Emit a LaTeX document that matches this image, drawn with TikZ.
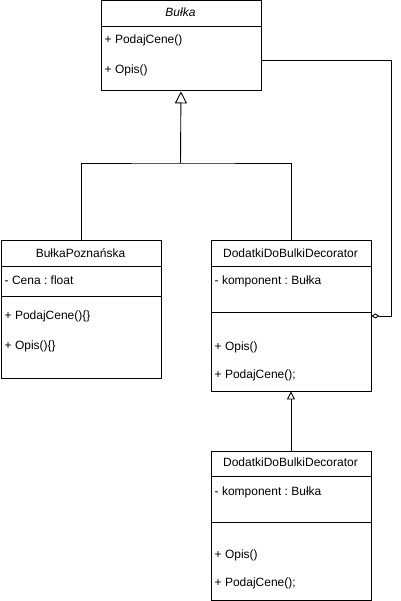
\documentclass[tikz,border=0pt]{standalone}
\usepackage{fontspec}
\setmainfont{Liberation Sans}
\usetikzlibrary{arrows.meta}
\frenchspacing
\begin{document}
\begin{tikzpicture}[x=1pt,y=-1pt,
  every node/.style={font=\fontsize{12}{14}\selectfont},
  line/.style={line width=0.9pt,draw=black},
  cls/.style={line, rectangle, anchor=north west, inner sep=0pt,
              minimum width=160pt},
  hdr/.style={inner sep=0pt, text height=9pt, text depth=3pt},
  mem/.style={anchor=west, inner sep=0pt, text height=9pt, text depth=3pt},
  gen/.style={line, -{Triangle[open,length=12pt,width=12pt]}},
  gensmall/.style={line, -{Triangle[open,length=8pt,width=8pt]}},
  agg/.style={line, -{Diamond[open,length=8pt,width=5pt]}}]
\useasboundingbox (0,0) rectangle (400,601);

% abstract base class
\node[cls, minimum height=90pt] (bulka) at (100.5,0.5) {};
\draw[line] ([yshift=-26pt]bulka.north west) -- ([yshift=-26pt]bulka.north east);
\node[hdr] (bulkaT) at (180.5,13.5) {\itshape Bułka};
\node[mem] (bulkaM1) at (104.5,41) {+ PodajCene()};
\node[mem] (bulkaM2) at (104.5,71) {+ Opis()};

% concrete class
\node[cls, minimum height=137pt] (poz) at (0.5,240.5) {};
\draw[line] ([yshift=-26pt]poz.north west) -- ([yshift=-26pt]poz.north east);
\draw[line] ([yshift=-56pt]poz.north west) -- ([yshift=-56pt]poz.north east);
\node[hdr] (pozT) at (80.5,254) {BułkaPoznańska};
\node[mem] (pozA) at (4.5,281) {- Cena : float};
\node[mem] (pozM1) at (4.5,316) {+ PodajCene()\{\}};
\node[mem] (pozM2) at (4.5,346) {+ Opis()\{\}};

% decorator
\node[cls, minimum height=150pt] (dek1) at (210.5,240.5) {};
\draw[line] ([yshift=-26pt]dek1.north west) -- ([yshift=-26pt]dek1.north east);
\draw[line] ([yshift=-72pt]dek1.north west) -- ([yshift=-72pt]dek1.north east);
\node[hdr] (dek1T) at (290.5,254) {DodatkiDoBulkiDecorator};
\node[mem] (dek1A) at (214.5,281) {- komponent : Bułka};
\node[mem] (dek1M1) at (214.5,347) {+ Opis()};
\node[mem] (dek1M2) at (214.5,375) {+ PodajCene();};

% concrete decorator
\node[cls, minimum height=149pt] (dek2) at (210.5,450.5) {};
\draw[line] ([yshift=-26pt]dek2.north west) -- ([yshift=-26pt]dek2.north east);
\draw[line] ([yshift=-72pt]dek2.north west) -- ([yshift=-72pt]dek2.north east);
\node[hdr] (dek2T) at (290.5,463) {DodatkiDoBulkiDecorator};
\node[mem] (dek2A) at (214.5,492) {- komponent : Bułka};
\node[mem] (dek2M1) at (214.5,555) {+ Opis()};
\node[mem] (dek2M2) at (214.5,583) {+ PodajCene();};

% generalisation tree
\coordinate (j) at (180.5,163);
\draw[line] (poz.north) |- (j) -| (dek1.north);
\draw[gen] (j) -- (bulka.south);
\draw[gensmall] (dek2.north) -- (dek1.south);

% aggregation of the wrapped component
\draw[agg] ([yshift=-15pt]bulka.east) -| ([xshift=20pt]dek1.east) -- (dek1.east);
\end{tikzpicture}
\end{document}
